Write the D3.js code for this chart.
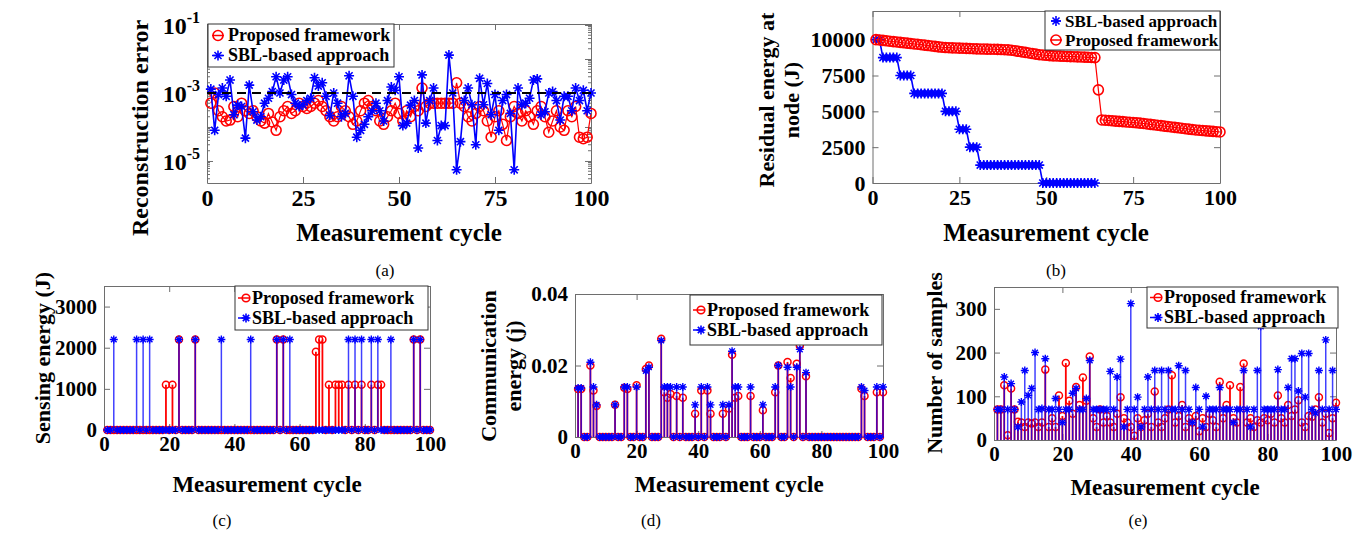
<!DOCTYPE html>
<html>
<head>
<meta charset="UTF-8">
<title>Measurement cycle results</title>
<script src="https://d3js.org/d3.v7.min.js"></script>
<style>
  body { margin: 0; background: #fff; }
  svg { display: block; }
</style>
</head>
<body>
<svg width="1367" height="533"></svg>
<script>
// ---- data ----
const cycles = d3.range(1, 101);

// (a) reconstruction error per cycle
const recProposed = [5e-4,1e-3,3e-4,2e-4,1.5e-4,1.6e-4,4e-4,2e-4,5e-4,3e-4,
  2.5e-4,3e-4,2e-4,1.5e-4,1.3e-4,2.5e-4,1.4e-4,8e-5,2e-4,3e-4,
  4e-4,2.5e-4,3e-4,5e-4,4e-4,3.5e-4,4e-4,5e-4,6e-4,4e-4,
  3e-4,2e-4,1.5e-4,2e-4,4e-4,3e-4,2e-4,1.2e-4,1.5e-4,3e-4,
  5e-4,6e-4,4e-4,3e-4,1.5e-4,1.2e-4,2e-4,3e-4,5e-4,2.5e-4,
  1.5e-4,3e-4,2e-4,4e-4,3e-4,1.4e-3,4e-4,5e-4,5e-4,5e-4,
  5e-4,5e-4,5e-4,5e-4,2e-3,5e-4,4e-4,2e-4,1.5e-4,2.5e-4,
  4e-4,3e-4,1.5e-4,5e-5,2e-4,3e-4,1.2e-4,4e-5,2e-4,4e-4,
  2.5e-4,1.5e-4,3e-4,2e-4,1.2e-4,3e-4,4e-4,2e-4,7e-5,1.5e-4,
  3e-4,1e-4,8e-5,3e-4,2e-4,4e-4,5e-5,4.5e-5,5e-5,2.5e-4];
const recSBL = [1.3e-3,8e-5,9e-4,1.4e-3,8e-4,2.4e-3,2.3e-4,4.4e-4,4e-4,4.7e-5,
  1.7e-3,2.8e-4,1.6e-4,2e-4,5e-4,7e-4,1.1e-3,3e-3,1e-3,2.4e-3,
  3e-3,9e-4,5e-4,4e-4,4.5e-4,6e-4,7e-4,2.8e-3,1.6e-3,2e-3,
  8e-4,2.2e-4,1e-3,5e-4,2e-4,2.5e-4,3.2e-3,8e-4,5e-5,8e-5,
  1.2e-4,2e-4,3e-4,5e-4,3e-4,1.5e-4,6e-4,1.5e-3,1.2e-3,3e-3,
  1.1e-4,1.3e-4,4.4e-4,6e-4,2.4e-5,3.4e-3,1.3e-4,6e-4,1.4e-3,4e-5,
  1.1e-4,1.1e-4,1.3e-2,1e-3,5.5e-6,3.7e-5,6e-4,1.4e-3,4.5e-4,3e-5,
  2.7e-3,4.5e-4,1.9e-3,2.3e-4,9e-4,8e-5,6e-4,9e-4,2.5e-4,5.5e-6,
  1.4e-3,4.5e-4,5e-4,7e-4,2.4e-3,2.6e-3,2.3e-4,2.8e-4,1e-3,1.1e-3,
  6e-4,1.6e-4,8e-4,8e-4,3e-4,1.4e-3,6e-4,1.2e-3,3e-4,1e-3];
const recThreshold = 1e-3;

// (b) residual energy at node (J)
const resSBL = [10000,10000,8750,8750,8750,8750,8750,7500,7500,7500,
  7500,6250,6250,6250,6250,6250,6250,6250,6250,6250,
  5000,5000,5000,5000,3750,3750,3750,2500,2500,2500,
  1250,1250,1250,1250,1250,1250,1250,1250,1250,1250,
  1250,1250,1250,1250,1250,1250,1250,1250,0,0,
  0,0,0,0,0,0,0,0,0,0,
  0,0,0,0];
const resProposed = [10000,9980,9950,9920,9890,9860,9840,9810,9780,9760,
  9730,9700,9680,9650,9620,9590,9560,9530,9500,9470,
  9450,9440,9430,9420,9410,9400,9390,9380,9370,9360,
  9350,9345,9340,9335,9330,9320,9310,9300,9290,9260,
  9230,9190,9150,9110,9070,9030,8990,8950,8930,8910,
  8890,8870,8860,8850,8840,8830,8820,8810,8800,8790,
  8780,8770,8760,8750,6500,4400,4380,4360,4340,4320,
  4300,4280,4260,4240,4220,4200,4180,4150,4120,4090,
  4060,4030,4000,3970,3940,3910,3880,3850,3820,3790,
  3760,3730,3700,3680,3660,3640,3620,3600,3580,3560];

// (c) sensing energy (J)
const senseProposed = [0,0,0,0,0,0,0,0,0,0,
  0,0,0,0,0,0,0,0,1100,0,
  1100,0,2200,0,0,0,0,2200,0,0,
  0,0,0,0,0,0,0,0,0,0,
  0,0,0,0,0,0,0,0,0,0,
  0,0,2200,0,2200,0,0,0,0,0,
  0,0,0,0,1900,2200,2200,0,1100,0,
  1100,1100,1100,0,1100,0,1100,0,1100,0,
  0,1100,0,1100,1100,0,0,0,0,0,
  0,0,0,0,2200,0,2200,0,0,0];
const senseSBL = [0,0,2200,0,0,0,0,0,0,2200,
  0,2200,0,2200,0,0,0,0,0,0,
  0,0,2200,0,0,0,0,2200,0,0,
  0,0,0,0,0,2200,0,0,0,0,
  0,0,0,0,2200,0,0,0,0,0,
  0,0,2200,0,2200,0,2200,0,0,0,
  0,0,0,0,0,0,0,0,0,0,
  0,0,0,0,2200,0,2200,0,2200,0,
  0,2200,0,2200,0,0,0,2200,0,0,
  0,0,0,0,2200,0,2200,0,0,0];

// (d) communication energy (j)
const commProposed = [.0134,.0134,0,0,.020,.013,.0087,0,0,0,
  0,0,.009,0,0,.0138,.0134,0,0,.0145,
  0,0,.019,.020,0,0,0,.0275,.0125,.011,
  .012,0,.0115,0,.011,0,0,0,.0065,0,
  .013,0,.013,.0065,0,0,0,.0065,0,.008,
  .023,.011,.0115,0,0,0,.0115,0,0,0,
  .0075,0,0,0,.0125,.020,0,0,.021,.0165,
  0,.0205,.0255,0,.017,0,0,0,0,0,
  0,0,0,0,0,0,0,0,0,0,
  0,0,.0135,.0115,0,0,0,.0125,0,.0125];
const commSBL = [.0137,.0137,0,0,.0209,.014,.009,0,0,0,
  0,0,.009,0,0,.014,.014,0,0,.014,
  0,0,.0185,.0195,0,0,0,.027,.014,.014,
  .014,0,.014,0,.014,0,0,0,.009,0,
  .014,0,.014,.009,0,0,0,.009,0,.009,
  .024,.014,.014,0,0,0,.014,0,0,0,
  .009,0,0,0,.014,.020,0,0,.0195,.014,
  0,.0195,.0245,0,.018,0,0,0,0,0,
  0,0,0,0,0,0,0,0,0,0,
  0,0,.014,.013,0,0,0,.014,0,.014];

// (e) number of samples
const sampProposed = [70,70,125,11,118,70,42,40,30,40,
  38,40,30,40,161,30,50,30,102,55,
  176,90,60,121,80,143,90,191,50,30,
  70,40,55,40,30,60,98,50,40,30,
  10,50,30,45,60,30,111,40,30,50,
  70,148,40,55,80,30,50,40,55,20,
  50,30,60,45,30,133,50,80,125,50,
  40,121,175,40,50,30,45,40,50,45,
  60,40,102,50,40,80,55,70,91,40,
  30,55,53,70,98,40,60,16,50,85];
const sampSBL = [70,70,144,70,129,70,30,87,159,102,
  118,200,70,72,186,70,70,95,70,40,
  70,70,107,118,70,70,95,182,70,70,
  70,70,70,157,70,144,185,30,70,312,
  70,98,30,70,144,70,159,70,159,70,
  159,70,70,170,70,159,70,40,120,70,
  30,100,70,70,70,120,70,70,70,40,
  70,70,159,70,30,70,159,260,70,70,
  70,70,161,70,70,120,186,186,112,198,
  98,198,70,62,159,70,229,70,159,70];

const seriesNames = ["Proposed framework", "SBL-based approach"];

// ---- drawing helpers ----
const SERIF = "'Liberation Serif','Times New Roman',serif";
const RED = "#ff0000", BLUE = "#0000ff", AXC = "#6e6e6e";
const svg = d3.select("svg").attr("font-family", SERIF);

function starPath(cx, cy, s) {
  const k = s * 0.7071;
  return `M${cx - s},${cy}L${cx + s},${cy}M${cx},${cy - s}L${cx},${cy + s}` +
    `M${cx - k},${cy - k}L${cx + k},${cy + k}M${cx - k},${cy + k}L${cx + k},${cy - k}`;
}

// box with inward ticks on all four sides (matlab style)
function frame(p, x, y, xt, yt, yfmt, fs) {
  const g = svg.append("g");
  const list = [
    [d3.axisBottom(x).tickValues(xt).tickPadding(6), `translate(0,${p.b})`],
    [d3.axisTop(x).tickValues(xt).tickFormat(""), `translate(0,${p.t})`],
    [d3.axisLeft(y).tickValues(yt).tickPadding(7).tickFormat(yfmt), `translate(${p.l},0)`],
    [d3.axisRight(y).tickValues(yt).tickFormat(""), `translate(${p.r},0)`]
  ];
  list.forEach(([ax, tr]) => {
    const a = g.append("g").attr("transform", tr)
      .call(ax.tickSizeInner(-6).tickSizeOuter(0));
    a.attr("font-family", SERIF).attr("font-size", fs).attr("font-weight", "bold");
    a.selectAll("path,line").attr("stroke", AXC);
    a.selectAll("text").attr("fill", "#000");
  });
  return g;
}

function legend(p, items, fs, rowH) {
  const g = svg.append("g");
  g.append("rect").attr("x", p.x).attr("y", p.y).attr("width", p.w).attr("height", p.h)
    .attr("fill", "#fff").attr("stroke", "#333").attr("stroke-width", 1);
  items.forEach((it, i) => {
    const cy = p.y + p.h / 2 + (i - (items.length - 1) / 2) * rowH;
    const sx = p.x + it.sx;
    g.append("line").attr("x1", sx - it.l0).attr("x2", sx + it.l1)
      .attr("y1", cy).attr("y2", cy).attr("stroke", it.color).attr("stroke-width", 1.5);
    if (it.mark === "circle") {
      g.append("circle").attr("cx", sx).attr("cy", cy).attr("r", it.r)
        .attr("fill", "none").attr("stroke", it.color).attr("stroke-width", 1.6);
    } else {
      g.append("path").attr("d", starPath(sx, cy, it.r))
        .attr("stroke", it.color).attr("stroke-width", 1.6).attr("fill", "none");
    }
    g.append("text").attr("x", p.x + it.tx).attr("y", cy).attr("dy", "0.33em")
      .attr("font-size", fs).attr("font-weight", "bold").text(it.label);
  });
}

function vlabel(lines, xs, cy, fs) {
  lines.forEach((t, i) => {
    svg.append("text").attr("transform", `translate(${xs[i]},${cy}) rotate(-90)`)
      .attr("text-anchor", "middle").attr("font-size", fs).attr("font-weight", "bold").text(t);
  });
}
function hlabel(t, x, y, fs, weight) {
  svg.append("text").attr("x", x).attr("y", y).attr("text-anchor", "middle")
    .attr("font-size", fs).attr("font-weight", weight || "bold").text(t);
}

function markers(g, pts, kind, color, size, w) {
  if (kind === "circle") {
    g.append("g").selectAll("circle").data(pts).join("circle")
      .attr("cx", d => d[0]).attr("cy", d => d[1]).attr("r", size)
      .attr("fill", "none").attr("stroke", color).attr("stroke-width", w);
  } else {
    g.append("g").selectAll("path").data(pts).join("path")
      .attr("d", d => starPath(d[0], d[1], size))
      .attr("fill", "none").attr("stroke", color).attr("stroke-width", w);
  }
}

// ---- (a) reconstruction error ----
{
  const P = { l: 207, r: 591, t: 24, b: 183 };
  const x = d3.scaleLinear().domain([0, 100]).range([P.l, P.r]);
  const y = d3.scaleLog().domain([2.25e-6, 0.107]).range([P.b, P.t]);
  frame(P, x, y, [0, 25, 50, 75, 100], [1e-5, 1e-4, 1e-3, 1e-2, 1e-1], "", 24);
  // minor log ticks
  const minor = y.ticks().filter(v => Math.abs(Math.log10(v) % 1) > 1e-6);
  const gm = svg.append("g").attr("stroke", AXC);
  minor.forEach(v => {
    gm.append("line").attr("x1", P.l).attr("x2", P.l + 3).attr("y1", y(v)).attr("y2", y(v));
    gm.append("line").attr("x1", P.r).attr("x2", P.r - 3).attr("y1", y(v)).attr("y2", y(v));
  });
  // labels 10^-1, 10^-3, 10^-5
  [1e-1, 1e-3, 1e-5].forEach(v => {
    const t = svg.append("text").attr("x", P.l - 7).attr("y", y(v) + 9)
      .attr("text-anchor", "end").attr("font-size", 24).attr("font-weight", "bold");
    t.append("tspan").text("10");
    t.append("tspan").attr("dy", -11).attr("font-size", 16).text(Math.round(Math.log10(v)));
  });
  const g = svg.append("g");
  const line = d3.line().x((d, i) => x(cycles[i])).y(d => y(d));
  g.append("path").attr("d", line(recProposed)).attr("fill", "none").attr("stroke", RED).attr("stroke-width", 1.2);
  markers(g, recProposed.map((v, i) => [x(cycles[i]), y(v)]), "circle", RED, 5, 1.6);
  g.append("path").attr("d", line(recSBL)).attr("fill", "none").attr("stroke", BLUE).attr("stroke-width", 1.6);
  markers(g, recSBL.map((v, i) => [x(cycles[i]), y(v)]), "star", BLUE, 5, 1.6);
  g.append("line").attr("x1", P.l).attr("x2", P.r).attr("y1", y(recThreshold)).attr("y2", y(recThreshold))
    .attr("stroke", "#000").attr("stroke-width", 2).attr("stroke-dasharray", "9,6");
  legend({ x: 208, y: 24, w: 186, h: 43 }, [
    { label: seriesNames[0], color: RED, mark: "circle", r: 5, sx: 10, l0: 6, l1: 6, tx: 20 },
    { label: seriesNames[1], color: BLUE, mark: "star", r: 5, sx: 10, l0: 6, l1: 6, tx: 20 }
  ], 18, 20);
  vlabel(["Reconstruction error"], [148], 128, 24);
  hlabel("Measurement cycle", 399, 241, 25);
  hlabel("(a)", 385, 276, 17, "normal");
}

// ---- (b) residual energy ----
{
  const P = { l: 872.5, r: 1220, t: 11, b: 183 };
  const x = d3.scaleLinear().domain([0, 100]).range([P.l, P.r]);
  const y = d3.scaleLinear().domain([0, 12000]).range([P.b, P.t]);
  frame(P, x, y, [0, 25, 50, 75, 100], [0, 2500, 5000, 7500, 10000], d3.format("d"), 22);
  const g = svg.append("g");
  const line = d3.line().x((d, i) => x(cycles[i])).y(d => y(d));
  g.append("path").attr("d", line(resSBL)).attr("fill", "none").attr("stroke", BLUE).attr("stroke-width", 1.6);
  markers(g, resSBL.map((v, i) => [x(cycles[i]), y(v)]), "star", BLUE, 5, 1.6);
  g.append("path").attr("d", line(resProposed)).attr("fill", "none").attr("stroke", RED).attr("stroke-width", 1.2);
  markers(g, resProposed.map((v, i) => [x(cycles[i]), y(v)]), "circle", RED, 5, 1.6);
  legend({ x: 1045, y: 11, w: 175, h: 39 }, [
    { label: seriesNames[1], color: BLUE, mark: "star", r: 5, sx: 11, l0: 5, l1: 5, tx: 20 },
    { label: seriesNames[0], color: RED, mark: "circle", r: 5, sx: 11, l0: 6, l1: 6, tx: 20 }
  ], 17, 19);
  vlabel(["Residual energy at", "node (J)"], [774, 799], 100, 22);
  hlabel("Measurement cycle", 1046, 241, 25);
  hlabel("(b)", 1056, 276, 17, "normal");
}

// stem panels (c), (d), (e)
function stemPanel(P, yDom, yTicks, yFmt, red, blue) {
  const x = d3.scaleLinear().domain([0, 100]).range([P.l, P.r]);
  const y = d3.scaleLinear().domain(yDom).range([P.b, P.t]);
  frame(P, x, y, [0, 20, 40, 60, 80, 100], yTicks, yFmt, 21);
  const g = svg.append("g");
  g.append("g").selectAll("line").data(red).join("line")
    .attr("x1", (d, i) => x(cycles[i])).attr("x2", (d, i) => x(cycles[i]))
    .attr("y1", y(0)).attr("y2", d => y(d)).attr("stroke", RED).attr("stroke-width", 1.8);
  markers(g, red.map((v, i) => [x(cycles[i]), y(v)]), "circle", RED, 3.5, 1.5);
  g.append("g").selectAll("line").data(blue).join("line")
    .attr("x1", (d, i) => x(cycles[i])).attr("x2", (d, i) => x(cycles[i]))
    .attr("y1", y(0)).attr("y2", d => y(d)).attr("stroke", BLUE).attr("stroke-width", 1.5)
    .attr("stroke-opacity", 0.75);
  markers(g, blue.map((v, i) => [x(cycles[i]), y(v)]), "star", BLUE, 4, 1.4);
  return { x, y };
}
function stemLegend(p) {
  legend(p, [
    { label: seriesNames[0], color: RED, mark: "circle", r: 3.8, sx: 11, l0: 8, l1: 3, tx: 17 },
    { label: seriesNames[1], color: BLUE, mark: "star", r: 4.5, sx: 11, l0: 8, l1: 3, tx: 17 }
  ], 18, 20);
}

// ---- (c) sensing energy ----
stemPanel({ l: 104, r: 430, t: 286, b: 430 }, [0, 3500], [0, 1000, 2000, 3000], d3.format("d"), senseProposed, senseSBL);
stemLegend({ x: 235, y: 286, w: 193, h: 44 });
vlabel(["Sensing energy (J)"], [50], 358, 22);
hlabel("Measurement cycle", 267, 492, 23);
hlabel("(c)", 222, 526, 17, "normal");

// ---- (d) communication energy ----
stemPanel({ l: 575, r: 883, t: 294, b: 437 }, [0, 0.04], [0, 0.02, 0.04], d => d === 0 ? "0" : d3.format(".2f")(d), commProposed, commSBL);
stemLegend({ x: 690, y: 295, w: 192, h: 50 });
vlabel(["Communication", "energy (j)"], [496, 521], 366, 22);
hlabel("Measurement cycle", 729, 492, 23);
hlabel("(d)", 651, 526, 17, "normal");

// ---- (e) number of samples ----
stemPanel({ l: 994, r: 1336, t: 287, b: 440 }, [0, 350], [0, 100, 200, 300], d3.format("d"), sampProposed, sampSBL);
stemLegend({ x: 1147, y: 287, w: 191, h: 41 });
vlabel(["Number of samples"], [942], 363, 22);
hlabel("Measurement cycle", 1165, 495, 23);
hlabel("(e)", 1138, 526, 17, "normal");
</script>
</body>
</html>
